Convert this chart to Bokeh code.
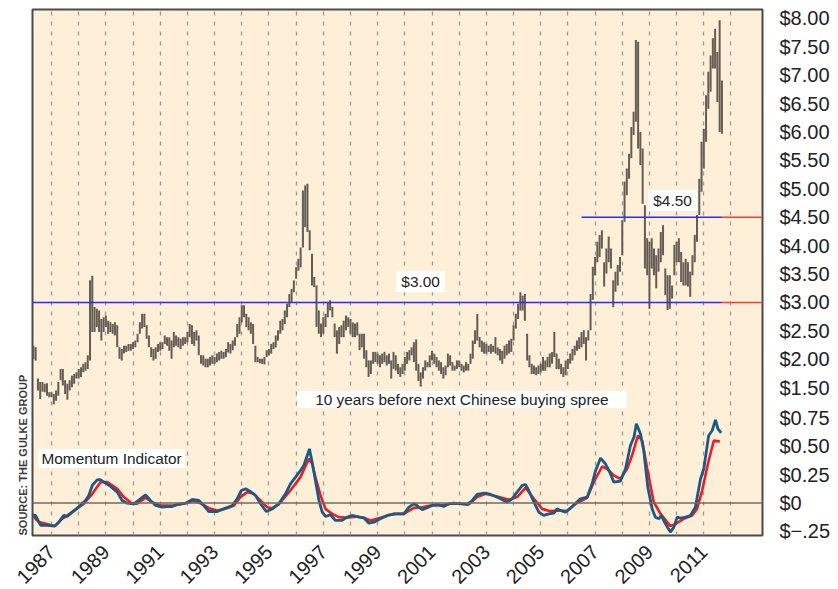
import numpy as np
from math import pi
from bokeh.plotting import figure
from bokeh.models import Range1d, LinearAxis, FixedTicker, Label, Title, Span
from bokeh.embed import file_html
from bokeh.resources import INLINE

# ---------------- data ----------------
first_year, first_month = 1986, 5          # first monthly price bar (May 1986)

price_low = [
    2.00, 1.98, 1.45, 1.30, 1.43, 1.42, 1.36, 1.33,                          # 1986 May-Dec
    1.33, 1.21, 1.27, 1.36, 1.63, 1.54, 1.39, 1.29, 1.45, 1.51, 1.57, 1.66,  # 1987
    1.66, 1.69, 1.77, 1.80, 1.83, 1.98, 2.48, 2.48, 2.57, 2.48, 2.33, 2.48,  # 1988
    2.57, 2.45, 2.48, 2.45, 2.42, 2.21, 2.01, 1.98, 2.10, 2.13, 2.15, 2.15,  # 1989
    2.18, 2.21, 2.30, 2.45, 2.54, 2.57, 2.36, 2.21, 2.04, 1.98, 2.01, 2.13,  # 1990
    2.15, 2.18, 2.27, 2.24, 2.15, 2.01, 2.21, 2.24, 2.21, 2.18, 2.24, 2.27,  # 1991
    2.30, 2.39, 2.27, 2.24, 2.33, 2.07, 1.92, 1.89, 1.86, 1.86, 1.89, 1.92,  # 1992
    1.92, 1.95, 1.98, 2.01, 2.01, 2.04, 2.12, 2.10, 2.16, 2.24, 2.39, 2.45,  # 1993
    2.65, 2.74, 2.57, 2.51, 2.45, 2.27, 1.95, 1.95, 1.93, 1.92, 1.91, 2.04,  # 1994
    2.07, 2.10, 2.18, 2.21, 2.33, 2.45, 2.51, 2.62, 2.74, 2.92, 3.01, 3.18,  # 1995
    3.42, 3.56, 3.62, 3.97, 4.33, 4.24, 3.92, 3.30, 3.27, 2.57, 2.45, 2.39,  # 1996
    2.45, 2.57, 2.74, 2.86, 2.74, 2.39, 2.10, 2.27, 2.39, 2.39, 2.51, 2.57,  # 1997
    2.45, 2.39, 2.39, 2.42, 2.16, 2.21, 2.01, 1.86, 1.69, 1.74, 1.92, 1.95,  # 1998
    1.92, 1.86, 1.92, 1.95, 1.89, 1.92, 1.66, 1.83, 1.80, 1.74, 1.69, 1.74,  # 1999
    1.80, 1.92, 1.98, 2.07, 1.95, 1.80, 1.62, 1.52, 1.66, 1.80, 1.86, 1.86,  # 2000
    1.98, 1.92, 1.86, 1.80, 1.74, 1.66, 1.72, 1.86, 1.89, 1.80, 1.80, 1.83,  # 2001
    1.86, 1.80, 1.77, 1.80, 1.80, 1.92, 2.01, 2.27, 2.33, 2.21, 2.13, 2.10,  # 2002
    2.10, 2.13, 2.10, 2.13, 2.10, 2.07, 1.98, 1.92, 2.01, 2.07, 2.10, 2.13,  # 2003
    2.33, 2.54, 2.71, 2.86, 2.86, 2.68, 1.98, 1.86, 1.74, 1.74, 1.72, 1.74,  # 2004
    1.77, 1.80, 1.80, 1.86, 1.86, 1.92, 2.04, 1.83, 1.83, 1.74, 1.69, 1.72,  # 2005
    1.83, 1.92, 1.98, 2.07, 2.15, 2.18, 2.21, 2.27, 1.98, 2.33, 2.51, 3.05,  # 2006
    3.48, 3.71, 3.80, 3.95, 3.28, 3.51, 3.71, 3.60, 2.92, 3.19, 3.30, 3.54,  # 2007
    3.83, 4.42, 4.89, 5.18, 5.54, 5.95, 6.18, 5.71, 5.42, 4.74, 3.60, 3.48,  # 2008
    2.89, 3.60, 3.48, 3.25, 3.54, 3.71, 3.83, 3.13, 2.87, 2.89, 3.07, 3.48,  # 2009
    3.71, 3.71, 3.36, 3.30, 3.30, 3.28, 3.10, 3.48, 3.71, 4.07, 4.54, 4.95,  # 2010
    5.36, 5.83, 6.41, 6.71, 7.12, 7.12, 6.53, 6.00, 5.97,                    # 2011 Jan-Sep
]
price_high = [
    2.24, 2.21, 1.66, 1.60, 1.60, 1.57, 1.58, 1.42,                          # 1986 May-Dec
    1.42, 1.39, 1.45, 1.60, 1.83, 1.83, 1.63, 1.57, 1.63, 1.71, 1.74, 1.77,  # 1987
    1.83, 1.86, 1.92, 1.95, 2.07, 3.39, 3.47, 2.92, 2.89, 2.86, 2.71, 2.74,  # 1988
    2.77, 2.68, 2.65, 2.62, 2.65, 2.60, 2.21, 2.18, 2.24, 2.24, 2.27, 2.27,  # 1989
    2.30, 2.33, 2.45, 2.65, 2.80, 2.80, 2.60, 2.42, 2.21, 2.18, 2.21, 2.27,  # 1990
    2.30, 2.30, 2.42, 2.39, 2.39, 2.33, 2.48, 2.42, 2.39, 2.36, 2.39, 2.39,  # 1991
    2.48, 2.62, 2.60, 2.48, 2.51, 2.42, 2.07, 2.07, 2.01, 2.01, 2.04, 2.07,  # 1992
    2.04, 2.10, 2.13, 2.15, 2.13, 2.18, 2.30, 2.27, 2.33, 2.39, 2.62, 2.74,  # 1993
    2.95, 2.95, 2.80, 2.74, 2.65, 2.62, 2.24, 2.04, 2.01, 2.01, 2.04, 2.16,  # 1994
    2.18, 2.27, 2.30, 2.42, 2.51, 2.68, 2.71, 2.86, 2.98, 3.15, 3.24, 3.39,  # 1995
    3.62, 3.77, 3.97, 4.97, 5.06, 5.09, 4.27, 3.86, 3.45, 3.30, 2.86, 2.63,  # 1996
    2.74, 2.80, 3.01, 3.04, 2.92, 2.63, 2.51, 2.57, 2.60, 2.68, 2.77, 2.74,  # 1997
    2.71, 2.65, 2.63, 2.65, 2.45, 2.45, 2.45, 2.16, 1.98, 1.98, 2.13, 2.13,  # 1998
    2.10, 2.07, 2.10, 2.13, 2.07, 2.10, 1.98, 2.13, 2.07, 1.92, 1.86, 1.92,  # 1999
    2.04, 2.13, 2.16, 2.21, 2.30, 2.35, 1.92, 1.77, 1.86, 1.98, 1.95, 2.07,  # 2000
    2.15, 2.10, 2.04, 1.98, 1.95, 1.86, 1.89, 2.10, 2.07, 1.95, 1.89, 1.98,  # 2001
    1.98, 1.92, 1.89, 1.95, 1.92, 2.10, 2.33, 2.51, 2.80, 2.39, 2.33, 2.30,  # 2002
    2.27, 2.24, 2.27, 2.24, 2.39, 2.21, 2.18, 2.15, 2.24, 2.27, 2.33, 2.36,  # 2003
    2.60, 2.80, 2.98, 3.18, 3.12, 3.15, 2.45, 2.07, 1.92, 1.89, 1.86, 1.89,  # 2004
    1.92, 2.04, 1.98, 2.04, 2.10, 2.13, 2.48, 2.10, 2.01, 1.92, 1.86, 1.98,  # 2005
    2.01, 2.10, 2.18, 2.24, 2.33, 2.39, 2.48, 2.51, 2.39, 2.51, 3.15, 3.63,  # 2006
    3.80, 4.07, 4.19, 4.27, 3.71, 3.95, 4.16, 3.95, 3.39, 3.54, 3.66, 3.80,  # 2007
    4.45, 5.13, 5.36, 5.62, 6.09, 6.36, 7.62, 7.59, 6.00, 5.71, 4.71, 4.13,  # 2008
    4.07, 4.13, 3.95, 3.83, 3.95, 4.24, 4.36, 3.60, 3.48, 3.48, 3.30, 4.01,  # 2009
    4.07, 4.13, 3.89, 3.71, 3.77, 3.71, 3.54, 3.83, 4.19, 4.54, 5.18, 5.83,  # 2010
    6.06, 6.65, 7.06, 7.35, 7.65, 7.82, 7.41, 7.97, 6.91,                    # 2011 Jan-Sep
]

mom_year = [1986.29, 1986.41, 1986.60, 1986.84, 1987.12, 1987.27, 1987.45, 1987.58, 1987.76, 1988.01,
            1988.25, 1988.37, 1988.50, 1988.68, 1988.78, 1988.93, 1989.17, 1989.42, 1989.60, 1989.78,
            1990.03, 1990.27, 1990.46, 1990.64, 1990.83, 1991.07, 1991.26, 1991.44, 1991.62, 1991.93,
            1992.18, 1992.42, 1992.60, 1992.79, 1993.10, 1993.34, 1993.65, 1993.83, 1993.98, 1994.14,
            1994.32, 1994.51, 1994.69, 1994.90, 1995.12, 1995.36, 1995.61, 1995.79, 1995.98, 1996.16,
            1996.28, 1996.41, 1996.49, 1996.59, 1996.71, 1996.84, 1996.96, 1997.08, 1997.26, 1997.45,
            1997.69, 1997.88, 1998.06, 1998.31, 1998.49, 1998.68, 1998.86, 1999.10, 1999.35, 1999.66,
            1999.96, 2000.15, 2000.33, 2000.45, 2000.64, 2000.82, 2001.01, 2001.19, 2001.43, 2001.62,
            2001.80, 2002.11, 2002.29, 2002.48, 2002.66, 2002.91, 2003.09, 2003.34, 2003.52, 2003.76,
            2003.95, 2004.13, 2004.32, 2004.44, 2004.56, 2004.75, 2004.93, 2005.11, 2005.30, 2005.48,
            2005.60, 2005.73, 2005.91, 2006.16, 2006.46, 2006.71, 2006.89, 2007.02, 2007.20, 2007.38,
            2007.54, 2007.69, 2007.93, 2008.12, 2008.30, 2008.43, 2008.52, 2008.67, 2008.79, 2008.94,
            2009.10, 2009.22, 2009.35, 2009.43, 2009.59, 2009.77, 2009.90, 2010.02, 2010.14, 2010.33,
            2010.51, 2010.69, 2010.88, 2011.00, 2011.18, 2011.31, 2011.43, 2011.52, 2011.64]
mom_value = [-0.104, -0.110, -0.198, -0.198, -0.204, -0.169, -0.110, -0.119, -0.081, -0.031,
             0.022, 0.066, 0.155, 0.204, 0.207, 0.184, 0.146, 0.096, 0.022, -0.002,
             -0.007, 0.037, 0.072, 0.022, -0.022, -0.037, -0.031, -0.031, -0.013, -0.002,
             0.031, 0.022, -0.022, -0.075, -0.075, -0.052, -0.022, 0.037, 0.110, 0.125,
             0.101, 0.066, -0.007, -0.075, -0.052, -0.007, 0.081, 0.169, 0.228, 0.287,
             0.331, 0.419, 0.478, 0.360, 0.199, 0.022, -0.081, -0.119, -0.104, -0.154,
             -0.154, -0.125, -0.110, -0.125, -0.131, -0.178, -0.169, -0.140, -0.110, -0.096,
             -0.096, -0.037, -0.007, -0.022, -0.060, -0.042, -0.022, -0.013, -0.031, -0.007,
             -0.002, -0.007, -0.013, 0.022, 0.075, 0.087, 0.081, 0.057, 0.037, 0.007,
             0.037, 0.096, 0.155, 0.163, 0.110, 0.007, -0.081, -0.110, -0.096, -0.090,
             -0.052, -0.066, -0.081, -0.031, 0.037, 0.052, 0.169, 0.287, 0.396, 0.346,
             0.272, 0.184, 0.193, 0.302, 0.508, 0.581, 0.699, 0.611, 0.463, 0.140,
             -0.052, -0.125, -0.140, -0.110, -0.184, -0.257, -0.213, -0.125, -0.134, -0.125,
             -0.110, -0.037, 0.213, 0.302, 0.596, 0.640, 0.734, 0.655, 0.619]

signal_year = [1986.29, 1986.53, 1987.12, 1987.39, 1987.76, 1988.19, 1988.50, 1988.80, 1989.05, 1989.42,
               1989.66, 1989.97, 1990.15, 1990.46, 1990.70, 1991.01, 1991.50, 1991.93, 1992.24, 1992.48,
               1992.79, 1993.10, 1993.46, 1993.71, 1993.95, 1994.20, 1994.44, 1994.69, 1994.93, 1995.12,
               1995.36, 1995.79, 1996.16, 1996.47, 1996.59, 1996.71, 1996.90, 1997.08, 1997.33, 1997.57,
               1997.88, 1998.25, 1998.49, 1998.74, 1999.10, 1999.59, 1999.96, 2000.33, 2000.64, 2000.94,
               2001.31, 2001.68, 2002.05, 2002.35, 2002.66, 2002.97, 2003.40, 2003.83, 2004.13, 2004.44,
               2004.75, 2005.05, 2005.36, 2005.73, 2005.97, 2006.28, 2006.71, 2006.95, 2007.26, 2007.44,
               2007.69, 2007.93, 2008.18, 2008.36, 2008.58, 2008.73, 2008.92, 2009.16, 2009.41, 2009.77,
               2009.96, 2010.26, 2010.57, 2010.75, 2010.94, 2011.18, 2011.37, 2011.49, 2011.59]
signal_value = [-0.110, -0.169, -0.204, -0.140, -0.081, -0.007, 0.081, 0.184, 0.184, 0.125,
                0.052, -0.007, -0.007, 0.046, 0.007, -0.022, -0.022, -0.002, 0.016, -0.002,
                -0.046, -0.066, -0.046, -0.022, 0.052, 0.096, 0.081, 0.022, -0.037, -0.046,
                -0.013, 0.110, 0.228, 0.390, 0.346, 0.228, 0.066, -0.052, -0.096, -0.125,
                -0.131, -0.119, -0.131, -0.154, -0.131, -0.096, -0.096, -0.043, -0.037, -0.022,
                -0.022, -0.007, -0.007, -0.013, 0.052, 0.081, 0.057, 0.028, 0.052, 0.134,
                0.037, -0.052, -0.072, -0.066, -0.072, -0.007, 0.046, 0.184, 0.322, 0.302,
                0.243, 0.213, 0.302, 0.419, 0.596, 0.552, 0.302, 0.007, -0.096, -0.204,
                -0.184, -0.140, -0.110, -0.052, 0.110, 0.375, 0.552, 0.546, 0.543]

level_values = [3.00, 4.50]
level_start = [1986.30, 2006.50]
level_labels = ["$3.00", "$4.50"]

price_ticks = [1.5, 2.0, 2.5, 3.0, 3.5, 4.0, 4.5, 5.0, 5.5, 6.0, 6.5, 7.0, 7.5, 8.0]
mom_ticks = [-0.25, 0.0, 0.25, 0.50, 0.75]
mom_tick_labels = ["$\u2212.25", "$0", "$0.25", "$0.50", "$0.75"]
year_ticks = list(range(1987, 2012, 2))
grid_years = list(range(1987, 2013))

# ---------------- scales ----------------
X0, X1 = 1986.30, 2013.16
P0, P1 = -1.102, 8.158
M0, M1 = -0.287, 4.356

months = np.arange(len(price_low))
bar_x = first_year + (first_month - 1) / 12 + months / 12
last_x = float(bar_x[-1])

FONT = "Liberation Sans"
BG = "#fdefd8"

p = figure(frame_width=730, frame_height=526,
           x_range=Range1d(X0, X1), y_range=Range1d(P0, P1),
           output_backend="svg", toolbar_location=None,
           y_axis_location=None,
           min_border_left=32, min_border_top=9, min_border_right=4, min_border_bottom=4,
           background_fill_color=BG, border_fill_color="white",
           outline_line_color="#4a4a4a", outline_line_width=2)
p.extra_y_ranges = {"mom": Range1d(M0, M1)}

# grid: yearly dashed verticals
p.ygrid.visible = False
p.xgrid.ticker = FixedTicker(ticks=grid_years)
p.xgrid.grid_line_color = "#9a9a9a"
p.xgrid.grid_line_dash = "4 6"
p.xgrid.grid_line_width = 1.3

# bottom axis
xa = p.xaxis[0]
xa.ticker = FixedTicker(ticks=year_ticks)
xa.major_label_orientation = pi / 4
xa.major_label_text_font = FONT
xa.major_label_text_font_size = "20px"
xa.major_label_text_color = "#222222"
xa.axis_line_color = None
xa.major_tick_line_color = None
xa.minor_tick_line_color = None
xa.major_label_standoff = 7

# right axis: price ticks + momentum ticks mapped into price units
def mom_to_price(m):
    return round(P0 + (m - M0) / (M1 - M0) * (P1 - P0), 6)

ticks = list(price_ticks) + [mom_to_price(m) for m in mom_ticks]
overrides = {t: "$%.2f" % t for t in price_ticks}
for m, lab in zip(mom_ticks, mom_tick_labels):
    overrides[mom_to_price(m)] = lab
ya = LinearAxis(ticker=FixedTicker(ticks=ticks), major_label_overrides=overrides,
                axis_line_color=None, major_tick_line_color=None, minor_tick_line_color=None,
                major_label_text_font=FONT, major_label_text_font_size="20px",
                major_label_text_color="#222222", major_label_standoff=11)
p.add_layout(ya, "right")

# source note on the left
src = Title(text="SOURCE: THE GULKE GROUP", align="left",
            text_font="Liberation Sans",
            text_font_size="11px", text_font_style="bold", text_color="#3a3a3a", standoff=7)
p.add_layout(src, "left")

# price bars
p.segment(x0=bar_x, y0=price_low, x1=bar_x, y1=price_high, line_color="#655c52", line_width=2)

# support levels
p.segment(x0=level_start, y0=level_values, x1=[last_x] * len(level_values), y1=level_values,
          line_color="#2b2bff", line_width=1.6)
p.segment(x0=[last_x] * len(level_values), y0=level_values, x1=[X1] * len(level_values), y1=level_values,
          line_color="#ff3b30", line_width=1.6)

# momentum
p.add_layout(Span(location=0, dimension="width", y_range_name="mom",
                  line_color="#766a60", line_width=1.5))
p.line(signal_year, signal_value, y_range_name="mom", line_color="#ec1c24", line_width=2.6)
p.line(mom_year, mom_value, y_range_name="mom", line_color="#1a5a86", line_width=2.8)

label_style = dict(text_font=FONT, text_font_size="15.4px", text_color="#222222",
                   text_align="center", text_baseline="middle",
                   background_fill_color="white")
p.add_layout(Label(x=2000.58, y=3.366, text=level_labels[0], padding=(5, 2), **label_style))
p.add_layout(Label(x=2009.85, y=4.796, text=level_labels[1], padding=(5, 2), **label_style))
p.add_layout(Label(x=2002.10, y=1.292, text="10 years before next Chinese buying spree",
                   padding=(18, 0), **label_style))
p.add_layout(Label(x=1989.21, y=0.393, y_range_name="mom", text="Momentum Indicator",
                   padding=(3, 1), **label_style))

open("out.html", "w").write(file_html(p, INLINE))
